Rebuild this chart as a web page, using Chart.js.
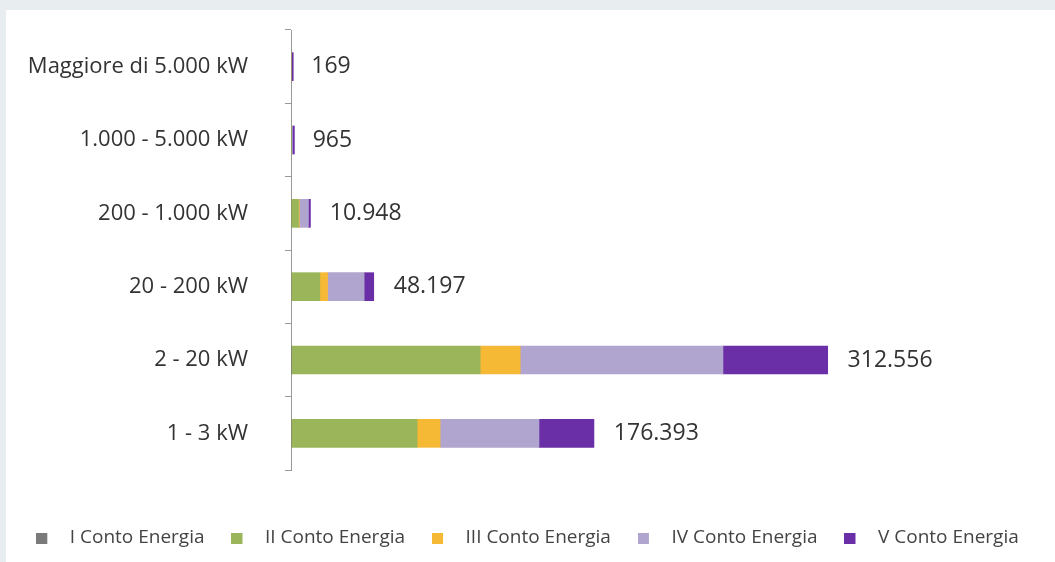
<!DOCTYPE html>
<html>
<head>
<meta charset="utf-8">
<script src="https://cdn.jsdelivr.net/npm/chart.js@4/dist/chart.umd.min.js"></script>
<style>
    html, body { margin: 0; padding: 0; background: #e8eef0; width: 1055px; height: 562px; overflow: hidden; }
    .panel { position: absolute; left: 6px; top: 10px; width: 1049px; height: 552px; background: #fff; }
    .wrap { position: absolute; left: 0; top: 10px; width: 1055px; height: 552px; }
</style>
</head>
<body>
<div class="panel"></div>
<div class="wrap"><canvas id="chart"></canvas></div>
<script>
const categories = ['Maggiore di 5.000 kW', '1.000 - 5.000 kW', '200 - 1.000 kW', '20 - 200 kW', '2 - 20 kW', '1 - 3 kW'];
const seriesNames = ['I Conto Energia', 'II Conto Energia', 'III Conto Energia', 'IV Conto Energia', 'V Conto Energia'];

// numero impianti per classe di potenza
const contoI = [9, 15, 48, 100, 200, 150];
const contoII = [60, 300, 4300, 16700, 110000, 73300];
const contoIII = [0, 0, 500, 4500, 23300, 13400];
const contoIV = [80, 500, 5300, 21300, 118100, 57600];
const contoV = [20, 150, 800, 5600, 61000, 32000];
const totals = [169, 965, 10948, 48197, 312556, 176393];

const colors = ['#7a7a7a', '#9bb55b', '#f6b935', '#b0a5cf', '#6a2fa6'];
const fontFamily = "'Open Sans', sans-serif";

function fmt(v) {
    return String(v).replace(/\B(?=(\d{3})+(?!\d))/g, '.');
}

// quadratino della legenda con spazio a destra prima del testo
function swatch(color) {
    const c = document.createElement('canvas');
    c.width = 24;
    c.height = 11;
    const g = c.getContext('2d');
    g.fillStyle = color;
    g.fillRect(0, 0, 11, 11);
    return c;
}

const totalLabels = {
    id: 'totalLabels',
    afterDatasetsDraw(chart) {
        const ctx = chart.ctx;
        const xScale = chart.scales.x;
        const yScale = chart.scales.y;
        ctx.save();
        ctx.font = "23px " + fontFamily;
        ctx.fillStyle = '#333';
        ctx.textAlign = 'left';
        ctx.textBaseline = 'middle';
        totals.forEach((t, i) => {
            const x = xScale.getPixelForValue(t) + 20;
            const y = yScale.getPixelForValue(i);
            ctx.fillText(fmt(t), x, y);
        });
        ctx.restore();
    }
};

const ctx = document.getElementById('chart').getContext('2d');
const values = [contoI, contoII, contoIII, contoIV, contoV];

new Chart(ctx, {
    type: 'bar',
    data: {
        labels: categories,
        datasets: values.map((d, i) => ({
            label: seriesNames[i],
            data: d,
            backgroundColor: colors[i],
            borderWidth: 0,
            barThickness: 28,
            minBarLength: i === 4 ? 2 : 0,
            pointStyle: swatch(colors[i])
        }))
    },
    options: {
        indexAxis: 'y',
        responsive: true,
        maintainAspectRatio: false,
        animation: false,
        layout: { padding: { top: 20, right: 0, bottom: 4.5, left: 0 } },
        scales: {
            x: {
                stacked: true,
                min: 0,
                max: 445000,
                grid: { display: false },
                border: { display: false },
                ticks: { display: false },
                afterFit: s => { s.height = 31.5; }
            },
            y: {
                stacked: true,
                grid: { display: true, drawOnChartArea: false, drawTicks: true, tickLength: 6, color: '#999', offset: true },
                border: { display: true, color: '#999', width: 1 },
                ticks: { color: '#333', padding: 37, font: { family: fontFamily, size: 22 } },
                afterFit: s => {
                    s.width = 291;
                    s.paddingTop = 0;
                    s.paddingBottom = 0;
                }
            }
        },
        plugins: {
            legend: {
                position: 'bottom',
                labels: {
                    usePointStyle: true,
                    pointStyleWidth: 24,
                    boxHeight: 11,
                    padding: 27,
                    color: '#444',
                    font: { family: fontFamily, size: 19 }
                }
            },
            tooltip: { enabled: false }
        }
    },
    plugins: [totalLabels]
});
</script>
</body>
</html>
